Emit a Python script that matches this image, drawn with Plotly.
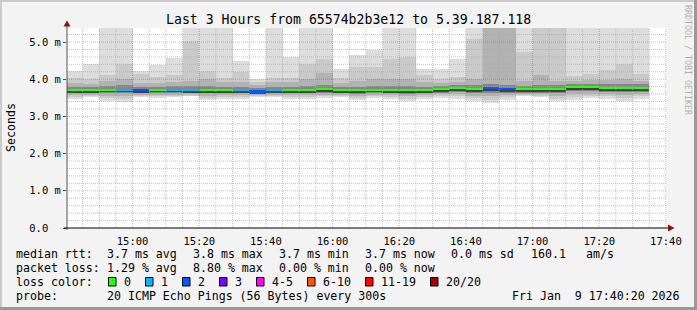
import plotly.graph_objects as go
from datetime import datetime, timedelta

# ---------------- data ----------------
bin_start = ["14:40","14:45","14:50","14:55","15:00","15:05","15:10","15:15","15:20","15:25",
             "15:30","15:35","15:40","15:45","15:50","15:55","16:00","16:05","16:10","16:15",
             "16:20","16:25","16:30","16:35","16:40","16:45","16:50","16:55","17:00","17:05",
             "17:10","17:15","17:20","17:25","17:30"]
# smoke band limits in ms (values above the chart top are drawn clipped)
p_max = [4.21,4.42,5.5,5.5,4.23,4.37,4.56,5.5,5.5,5.5,4.50,4.00,5.5,4.60,5.5,5.5,4.28,4.66,4.78,5.5,
         5.5,4.28,4.28,4.53,5.5,5.5,5.5,5.5,5.5,5.5,5.5,5.5,5.5,5.5,5.5]
p_hi2 = [4.02,4.00,4.12,4.42,4.15,4.05,4.12,5.03,4.23,4.04,4.19,3.92,4.02,4.04,4.42,4.53,4.02,4.33,4.33,4.55,
         4.60,4.10,4.00,4.07,5.09,5.5,5.5,4.73,5.5,5.5,4.08,4.15,4.24,4.42,4.15]
p_hi3 = [3.90,3.88,3.95,4.00,3.90,3.90,3.92,3.95,4.00,3.92,3.92,3.85,3.92,3.92,4.00,4.17,3.90,3.95,4.00,4.00,
         4.00,3.92,3.90,3.92,4.00,5.5,5.5,3.95,4.10,3.95,3.95,3.98,3.98,4.00,3.95]
p_hi4 = [3.80,3.79,3.82,3.85,3.80,3.80,3.82,3.82,3.82,3.80,3.80,3.76,3.80,3.80,3.82,3.85,3.80,3.80,3.82,3.82,
         3.82,3.80,3.82,3.84,3.84,3.86,3.84,3.82,3.85,3.84,3.88,3.88,3.86,3.86,3.86]
median = [3.71,3.70,3.72,3.72,3.71,3.72,3.72,3.71,3.71,3.70,3.70,3.67,3.70,3.70,3.70,3.73,3.70,3.70,3.72,3.70,
          3.70,3.70,3.73,3.76,3.73,3.76,3.73,3.73,3.73,3.73,3.79,3.79,3.76,3.76,3.76]
p_lo4 = [3.62,3.62,3.62,3.62,3.63,3.63,3.63,3.63,3.62,3.62,3.62,3.60,3.62,3.62,3.62,3.63,3.62,3.61,3.63,3.62,
         3.61,3.62,3.64,3.66,3.63,3.64,3.63,3.64,3.64,3.62,3.68,3.68,3.66,3.65,3.66]
p_lo3 = [3.58,3.58,3.56,3.55,3.58,3.58,3.58,3.59,3.56,3.57,3.57,3.57,3.58,3.57,3.57,3.58,3.58,3.55,3.58,3.57,
         3.55,3.57,3.59,3.60,3.56,3.55,3.57,3.60,3.59,3.55,3.60,3.61,3.60,3.57,3.60]
p_lo2 = [3.53,3.55,3.50,3.47,3.55,3.54,3.55,3.56,3.50,3.52,3.51,3.55,3.55,3.51,3.52,3.54,3.55,3.49,3.54,3.52,
         3.48,3.52,3.55,3.54,3.49,3.45,3.51,3.57,3.55,3.48,3.52,3.56,3.54,3.49,3.54]
p_min = [3.47,3.52,3.42,3.38,3.52,3.50,3.52,3.54,3.44,3.48,3.46,3.52,3.53,3.46,3.48,3.50,3.52,3.43,3.50,3.48,
         3.41,3.48,3.50,3.48,3.41,3.36,3.45,3.54,3.52,3.41,3.45,3.50,3.48,3.41,3.48]
loss = [0,0,0,1,2,0,1,1,0,0,1,2,1,0,0,0,0,0,0,0,0,0,0,0,0,2,2,0,0,0,0,0,0,0,0]

loss_labels = ["0", "1", "2", "3", "4-5", "6-10", "11-19", "20/20"]
loss_colors = ["#26ff00", "#00b8ff", "#0059ff", "#7e00ff", "#ff00ff", "#ff5500", "#ff0000", "#a10000"]

y_tickvals = [0, 1, 2, 3, 4, 5]
y_ticktext = ["0.0\u00a0\u00a0", "1.0 m", "2.0 m", "3.0 m", "4.0 m", "5.0 m"]
x_ticktext = ["15:00", "15:20", "15:40", "16:00", "16:20", "16:40", "17:00", "17:20", "17:40"]

title = "Last 3 Hours from 65574b2b3e12 to 5.39.187.118"
legend_rtt = ["median rtt:", "3.7 ms avg", "3.8 ms max", "3.7 ms min", "3.7 ms now", "0.0 ms sd", "160.1", "am/s"]
legend_loss = ["packet loss:", "1.29 % avg", "8.80 % max", "0.00 % min", "0.00 % now"]
probe_text = ["probe:", "20 ICMP Echo Pings (56 Bytes) every 300s", "Fri Jan  9 17:40:20 2026"]

# ---------------- geometry ----------------
W, H = 697, 310
L, T, PW, PH = 67, 28, 600, 200
B = H - T - PH
PXMS = 37.2
YMAX = PH / PXMS
DAY = "2026-01-09 "
t_end = datetime(2026, 1, 9, 17, 40, 20)
t_start = t_end - timedelta(hours=3)

def px(x):
    return (x - L) / PW

def py(y):
    return (T + PH - y) / PH

def ts(hm):
    return datetime.strptime(DAY + hm, "%Y-%m-%d %H:%M")

centers = [ts(s) + timedelta(seconds=150) for s in bin_start]
BW = 300000  # ms

fig = go.Figure()

layers = [
    (p_min, p_max, "#dddddd"),
    (p_lo2, p_hi2, "#cacaca"),
    (p_lo3, p_hi3, "#b2b2b2"),
    (p_lo4, p_hi4, "#858585"),
]
for lo, hi, col in layers:
    fig.add_trace(go.Bar(
        x=centers, base=lo, y=[h - l for l, h in zip(lo, hi)], width=BW,
        marker=dict(color=col, line=dict(width=0)), hoverinfo="skip", showlegend=False))

med_h = 2.2 / PXMS
core_h = 1.2 / PXMS
# thin dark core just below the median line
fig.add_trace(go.Bar(
    x=centers, base=[m - med_h / 2 - core_h for m in median], y=[core_h] * len(median), width=BW,
    marker=dict(color="#404040", line=dict(width=0)), hoverinfo="skip", showlegend=False))

# median line coloured by loss
fig.add_trace(go.Bar(
    x=centers, base=[m - med_h / 2 for m in median], y=[med_h] * len(median), width=BW,
    marker=dict(color=[loss_colors[v] for v in loss], line=dict(width=0)),
    hoverinfo="skip", showlegend=False))

shapes = []
# grid (drawn above the smoke, like rrdtool)
minor_col = "rgba(170,170,170,0.7)"
major_col = "rgba(255,0,0,0.35)"
t = ts("14:45")
while t <= t_end:
    major = (t.minute % 20 == 0)
    shapes.append(dict(type="line", xref="x", yref="paper", x0=t, x1=t, y0=0, y1=1, layer="above",
                       line=dict(color=major_col if major else minor_col, width=1, dash="1px,1px")))
    t += timedelta(minutes=5)
for i in range(1, 27):
    v = i * 0.2
    major = (i % 5 == 0)
    shapes.append(dict(type="line", xref="paper", yref="y", x0=0, x1=1, y0=v, y1=v, layer="above",
                       line=dict(color=major_col if major else minor_col, width=1, dash="1px,1px")))

# axes with arrows
shapes.append(dict(type="line", xref="paper", yref="paper", x0=px(L), x1=px(L), y0=py(T + PH + 2), y1=py(24),
                   line=dict(color="#555555", width=1), layer="above"))
shapes.append(dict(type="line", xref="paper", yref="paper", x0=px(L - 3), x1=px(669), y0=py(T + PH), y1=py(T + PH),
                   line=dict(color="#000000", width=1), layer="above"))
shapes.append(dict(type="path", xref="paper", yref="paper", layer="above",
                   path=f"M {px(L)},{py(20.5)} L {px(L-3.5)},{py(26.5)} L {px(L+3.5)},{py(26.5)} Z",
                   fillcolor="#8b1010", line=dict(width=0)))
shapes.append(dict(type="path", xref="paper", yref="paper", layer="above",
                   path=f"M {px(674.5)},{py(T+PH)} L {px(668)},{py(T+PH-3.5)} L {px(668)},{py(T+PH+3.5)} Z",
                   fillcolor="#8b1010", line=dict(width=0)))

# frame
shapes.append(dict(type="rect", xref="paper", yref="paper", x0=px(0), x1=px(W), y0=py(0), y1=py(2),
                   fillcolor="#cbcbcb", line=dict(width=0), layer="above"))
shapes.append(dict(type="rect", xref="paper", yref="paper", x0=px(0), x1=px(2), y0=py(0), y1=py(H),
                   fillcolor="#cbcbcb", line=dict(width=0), layer="above"))
shapes.append(dict(type="rect", xref="paper", yref="paper", x0=px(0), x1=px(W), y0=py(H - 3), y1=py(H),
                   fillcolor="#999999", line=dict(width=0), layer="above"))
shapes.append(dict(type="rect", xref="paper", yref="paper", x0=px(W - 3), x1=px(W), y0=py(0), y1=py(H),
                   fillcolor="#999999", line=dict(width=0), layer="above"))

MONO = "DejaVu Sans Mono"
ann = []

def text(s, x, y, size=11.6, anchor="left", color="#000000", angle=0):
    ann.append(dict(text=s, x=px(x), y=py(y), xref="paper", yref="paper", showarrow=False,
                    xanchor=anchor, yanchor="middle", textangle=angle, borderpad=0,
                    font=dict(family=MONO, size=size, color=color)))

text(title, 348, 19, size=13.2, anchor="center")
text("Seconds", 11, 128, size=11.6, anchor="center", angle=-90)
text("RRDTOOL / TOBI OETIKER", 688, 60, size=8.3, anchor="center", color="#b0b0b0", angle=90)

rtt_x = [16, 107.3, 193.3, 279.3, 365, 451, 530.7, 586]
for s, x in zip(legend_rtt, rtt_x):
    text(s, x - 1, 254.3)
loss_x = [16, 107.3, 193.3, 279.3, 365]
for s, x in zip(legend_loss, loss_x):
    text(s, x - 1, 268.3)
text("loss color:", 15, 281.7)
box_x = [108.5, 145.5, 182.5, 219.5, 256.5, 307.5, 365.5, 430.5]
for s, c, x in zip(loss_labels, loss_colors, box_x):
    shapes.append(dict(type="rect", xref="paper", yref="paper", x0=px(x), x1=px(x + 7.5),
                       y0=py(277.5), y1=py(286), fillcolor=c, line=dict(color="#000000", width=1), layer="above"))
    text(s, x + 14.5, 281.7)
text(probe_text[0], 15, 295.7)
text(probe_text[1], 106.3, 295.7)
text(probe_text[2], 680.5, 295.7, anchor="right")

fig.update_layout(
    width=W, height=H, margin=dict(l=L, r=W - L - PW, t=T, b=B, pad=0),
    paper_bgcolor="#f3f3f3", plot_bgcolor="#ffffff",
    barmode="overlay", bargap=0, showlegend=False,
    shapes=shapes, annotations=ann,
    xaxis=dict(type="date", range=[t_start, t_end], showgrid=False, zeroline=False, showline=False,
               tickvals=[ts(s) for s in x_ticktext], ticktext=x_ticktext,
               ticks="outside", ticklen=3, tickcolor="rgba(0,0,0,0)",
               tickfont=dict(family=MONO, size=10.5, color="#000000")),
    yaxis=dict(range=[0, YMAX], showgrid=False, zeroline=False, showline=False,
               tickvals=y_tickvals, ticktext=y_ticktext,
               ticks="outside", ticklen=3, tickcolor="#555555",
               tickfont=dict(family=MONO, size=10.5, color="#000000")),
)

fig.write_html("out.html")
